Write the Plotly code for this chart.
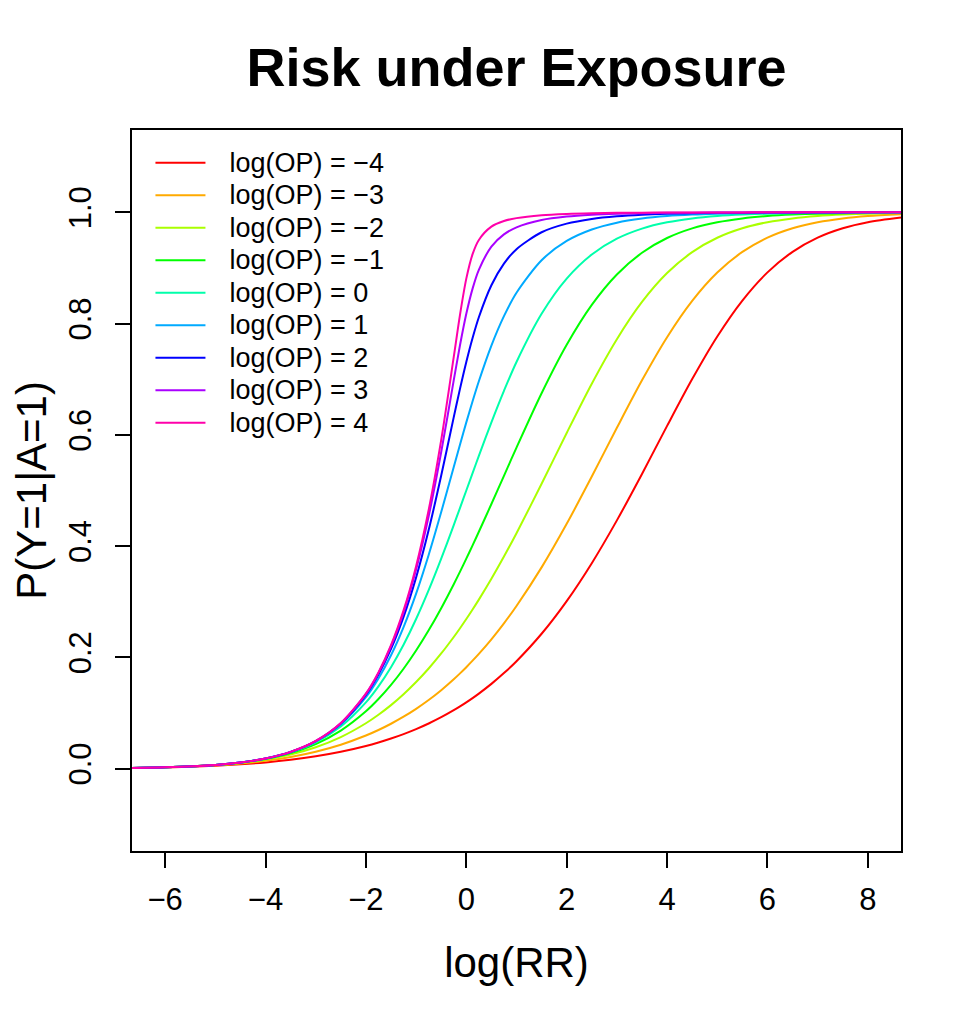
import plotly.graph_objects as go

# log(RR) grid
log_rr = [-6.66, -6, -5, -4.5, -4, -3.5, -3, -2.5, -2, -1.75, -1.5, -1.25, -1, -0.75,
          -0.5, -0.25, -0.125, 0, 0.125, 0.25, 0.5, 0.75, 1, 1.5, 2, 2.5, 3, 3.5, 4,
          4.5, 5, 5.5, 6, 6.5, 7, 7.5, 8, 8.66]

# P(Y=1|A=1) for each log(OP)
p_op_m4 = [0.001202, 0.002211, 0.005234, 0.007779, 0.011284, 0.015997, 0.022219, 0.030321,
           0.040762, 0.047034, 0.054112, 0.062090, 0.071064, 0.081143, 0.092442, 0.105085,
           0.111950, 0.119203, 0.126857, 0.134932, 0.152410, 0.171778, 0.193171, 0.242515,
           0.301194, 0.369383, 0.446288, 0.529764, 0.616096, 0.700253, 0.776830, 0.841462,
           0.892063, 0.929050, 0.954592, 0.971485, 0.982320, 0.990707]
p_op_m3 = [0.001250, 0.002366, 0.006008, 0.009340, 0.014205, 0.021080, 0.030507, 0.043098,
           0.059563, 0.069502, 0.080730, 0.093369, 0.107550, 0.123408, 0.141082, 0.160709,
           0.171298, 0.182426, 0.194106, 0.206355, 0.232604, 0.261261, 0.292352, 0.361807,
           0.440115, 0.525037, 0.612738, 0.698071, 0.775543, 0.840778, 0.891733, 0.928903,
           0.954530, 0.971460, 0.982311, 0.989126, 0.993349, 0.996541]
p_op_m2 = [0.001269, 0.002435, 0.006430, 0.010315, 0.016316, 0.025332, 0.038435, 0.056805,
           0.081669, 0.096919, 0.114246, 0.133797, 0.155704, 0.180089, 0.207051, 0.236659,
           0.252466, 0.268941, 0.286081, 0.303876, 0.341368, 0.381248, 0.423247, 0.512018,
           0.603456, 0.692029, 0.771992, 0.838893, 0.890822, 0.928497, 0.954360, 0.971392,
           0.982284, 0.989115, 0.993346, 0.995944, 0.997533, 0.998722]
p_op_m1 = [0.001277, 0.002462, 0.006618, 0.010789, 0.017471, 0.028004, 0.044225, 0.068424,
           0.103112, 0.125127, 0.150574, 0.179612, 0.212316, 0.248662, 0.288512, 0.331604,
           0.354247, 0.377541, 0.401414, 0.425787, 0.475675, 0.526416, 0.577135, 0.674827,
           0.761899, 0.833573, 0.888275, 0.927372, 0.953893, 0.971206, 0.982213, 0.989088,
           0.993335, 0.995940, 0.997531, 0.998500, 0.999089, 0.999530]
p_op_0 = [0.001280, 0.002473, 0.006693, 0.010987, 0.017986, 0.029312, 0.047426, 0.075858,
          0.119203, 0.148047, 0.182426, 0.222700, 0.268941, 0.320821, 0.377541, 0.437823,
          0.468791, 0.500000, 0.531209, 0.562177, 0.622459, 0.679179, 0.731059, 0.817574,
          0.880797, 0.924142, 0.952574, 0.970688, 0.982014, 0.989013, 0.993307, 0.995930,
          0.997527, 0.998499, 0.999089, 0.999447, 0.999665, 0.999827]
p_op_1 = [0.001280, 0.002477, 0.006721, 0.011063, 0.018192, 0.029859, 0.048864, 0.079555,
          0.128379, 0.162219, 0.203915, 0.254533, 0.314711, 0.384190, 0.461252, 0.542352,
          0.582871, 0.622459, 0.660479, 0.696393, 0.760477, 0.813330, 0.855473, 0.913884,
          0.948601, 0.969183, 0.981451, 0.988804, 0.993230, 0.995901, 0.997517, 0.998495,
          0.999087, 0.999446, 0.999664, 0.999796, 0.999877, 0.999936]
p_op_2 = [0.001281, 0.002478, 0.006732, 0.011092, 0.018270, 0.030071, 0.049439, 0.081116,
          0.132592, 0.169116, 0.215148, 0.272671, 0.343547, 0.428802, 0.527044, 0.631951,
          0.683154, 0.731059, 0.774115, 0.811442, 0.868952, 0.907772, 0.933859, 0.964228,
          0.979732, 0.988194, 0.993010, 0.995822, 0.997488, 0.998484, 0.999084, 0.999445,
          0.999664, 0.999796, 0.999877, 0.999925, 0.999955, 0.999977]
p_op_3 = [0.001281, 0.002479, 0.006736, 0.011103, 0.018299, 0.030150, 0.049658, 0.081723,
          0.134298, 0.171995, 0.220039, 0.281036, 0.357944, 0.453617, 0.569108, 0.698321,
          0.761470, 0.817574, 0.862859, 0.896663, 0.938300, 0.960307, 0.972994, 0.986149,
          0.992336, 0.995589, 0.997405, 0.998455, 0.999073, 0.999443, 0.999664, 0.999797,
          0.999877, 0.999925, 0.999955, 0.999972, 0.999983, 0.999991]
p_op_4 = [0.001281, 0.002479, 0.006737, 0.011107, 0.018310, 0.030180, 0.049739, 0.081951,
          0.134949, 0.173110, 0.221970, 0.284434, 0.364062, 0.464966, 0.590899, 0.740181,
          0.816144, 0.880797, 0.924811, 0.950409, 0.974227, 0.984332, 0.989623, 0.994802,
          0.997151, 0.998368, 0.999042, 0.999430, 0.999659, 0.999795, 0.999876, 0.999925,
          0.999955, 0.999972, 0.999983, 0.999990, 0.999994, 0.999997]

series_labels = ["log(OP) = \u22124", "log(OP) = \u22123", "log(OP) = \u22122",
                 "log(OP) = \u22121", "log(OP) = 0", "log(OP) = 1", "log(OP) = 2",
                 "log(OP) = 3", "log(OP) = 4"]
series_values = [p_op_m4, p_op_m3, p_op_m2, p_op_m1, p_op_0, p_op_1, p_op_2, p_op_3, p_op_4]
colors = ["#FF0000", "#FFAA00", "#AAFF00", "#00FF00", "#00FFAA", "#00AAFF",
          "#0000FF", "#AA00FF", "#FF00AA"]

x_ticks = [-6, -4, -2, 0, 2, 4, 6, 8]
y_ticks = [0.0, 0.2, 0.4, 0.6, 0.8, 1.0]
y_ticktext = ["0.0", "0.2", "0.4", "0.6", "0.8", "1.0"]

FONT = "Liberation Sans, Arial, Helvetica, sans-serif"

fig = go.Figure()
for lab, vals, col in zip(series_labels, series_values, colors):
    n = min(len(log_rr), len(vals))
    fig.add_trace(go.Scatter(
        x=log_rr[:n], y=vals[:n], mode="lines",
        name="\u00a0\u00a0\u00a0<span style='font-size:27px'>" + lab + "</span>",
        line=dict(color=col, width=2, shape="spline", smoothing=0.8)))

fig.update_layout(
    width=961, height=1008,
    margin=dict(l=124, r=68, t=122, b=165),
    plot_bgcolor="white", paper_bgcolor="white",
    font=dict(family=FONT, color="black", size=27),
    title=dict(text="<b>Risk under Exposure</b>", font=dict(size=54, family=FONT, color="black"),
               x=0.5, xref="paper", xanchor="center", y=1 - 59 / 1008, yref="container",
               yanchor="middle"),
    showlegend=True,
    legend=dict(x=0.024, y=0.984, xanchor="left", yanchor="top", bgcolor="rgba(0,0,0,0)",
                borderwidth=0, font=dict(size=22.7, family=FONT), tracegroupgap=0,
                itemwidth=50),
    annotations=[dict(text="P(Y=1|A=1)", xref="paper", yref="paper", x=-0.131, y=0.5,
                      xanchor="center", yanchor="middle", textangle=-90, showarrow=False,
                      font=dict(size=42, family=FONT, color="black"))],
)
fig.update_xaxes(range=[-6.66, 8.66], tickmode="array", tickvals=x_ticks,
                 ticks="outside", ticklen=15, tickwidth=1.5, tickcolor="black",
                 showline=True, linewidth=1.5, linecolor="black", mirror=True,
                 showgrid=False, zeroline=False, tickfont=dict(size=31),
                 ticklabelstandoff=5, automargin=False,
                 title=dict(text="log(RR)", font=dict(size=42), standoff=32))
fig.update_yaxes(range=[-0.148, 1.148], tickmode="array", tickvals=y_ticks,
                 ticktext=y_ticktext, tickangle=-90,
                 ticks="outside", ticklen=15, tickwidth=1.5, tickcolor="black",
                 showline=True, linewidth=1.5, linecolor="black", mirror=True,
                 showgrid=False, zeroline=False, tickfont=dict(size=31),
                 ticklabelstandoff=12, automargin=False)

fig.write_html("out.html")
